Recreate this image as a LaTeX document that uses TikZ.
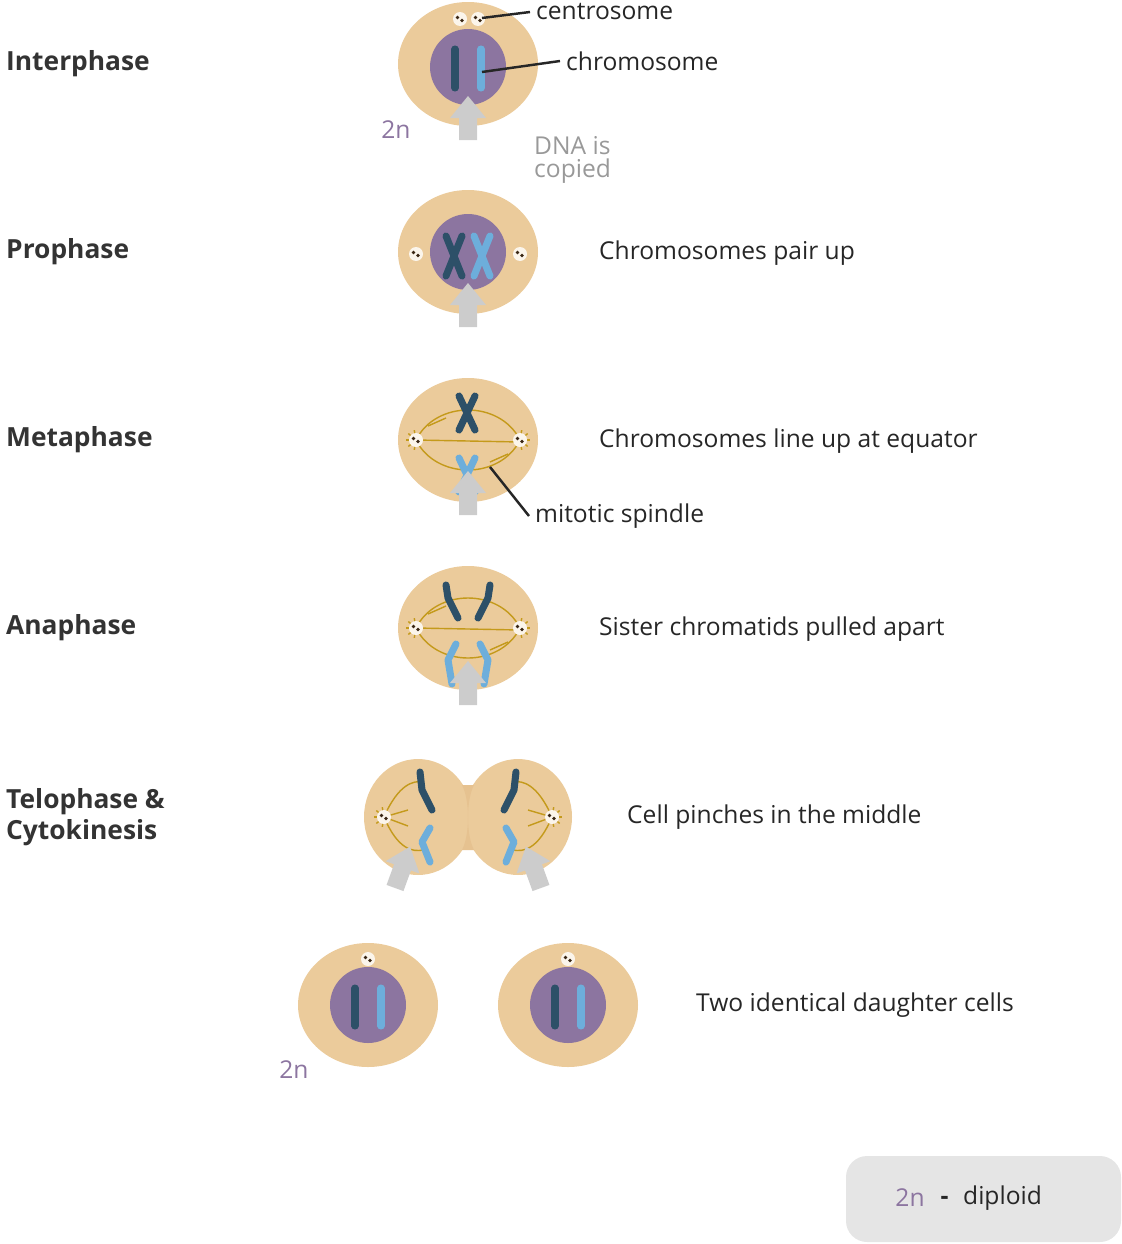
\documentclass[tikz,border=0pt]{standalone}
\usepackage{fontspec}
\setmainfont{Open Sans}
\usetikzlibrary{positioning}

\definecolor{cellc}{HTML}{EBCB9B}
\definecolor{nucc}{HTML}{8C75A0}
\definecolor{darkchr}{HTML}{2D5068}
\definecolor{lightchr}{HTML}{6DAEDB}
\definecolor{spindc}{HTML}{C49A1B}
\definecolor{arrc}{HTML}{CCCCCC}
\definecolor{labgray}{HTML}{999999}

\tikzset{
  stage/.style={anchor=west, font=\fontsize{15}{18}\selectfont\bfseries, text=black!80, align=left},
  desc/.style={anchor=west, font=\fontsize{14}{17}\selectfont, text=black!85},
  chr/.style={line width=4pt, line cap=round, line join=round},
  spin/.style={spindc, line width=0.8pt},
  pointer/.style={black!85, line width=1.4pt},
  ploidy/.style={font=\fontsize{14}{17}\selectfont, text=nucc}
}

% block arrow, rotated
\newcommand{\blockarrow}[3]{%
  \fill[arrc, shift={(#1,#2)}, rotate=#3] (-9,0) -- (9,0) -- (9,-22) -- (18,-22) -- (0,-44) -- (-18,-22) -- (-9,-22) -- cycle;}
% centrosome
\newcommand{\centro}[2]{%
  \fill[white!80!cellc] (#1,#2) circle (7);
  \fill[black!70!brown] (#1-2.5,#2-1.5) circle (1.8) (#1+2,#2+1.5) circle (1.8);}
% spindle between two poles
\newcommand{\spindle}[3]{% cx cy half width
  \draw[spin] (#1-#3,#2) .. controls (#1-#3+20,#2-40) and (#1+#3-20,#2-40) .. (#1+#3,#2);
  \draw[spin] (#1-#3,#2) .. controls (#1-#3+20,#2+40) and (#1+#3-20,#2+40) .. (#1+#3,#2);
  \draw[spin] (#1-#3,#2) -- (#1+#3,#2+2);
  \draw[spin] (#1-#3+12,#2-14) -- (#1-#3+30,#2-22) (#1+#3-12,#2+14) -- (#1+#3-30,#2+22);
  \foreach \a in {100,140,180,220,260}{
    \draw[spin] (#1-#3,#2) -- ++(\a:10) (#1+#3,#2) -- ++(180-\a:10);}
  \centro{#1-#3}{#2}\centro{#1+#3}{#2}}

\begin{document}
\begin{tikzpicture}[x=0.02cm,y=-0.02cm]
\useasboundingbox (0,0) rectangle (1122,1244);

%cells
\foreach \cx/\cy in {468/64,468/252,468/440,468/628,368/1005,568/1005}
  \fill[cellc] (\cx,\cy) ellipse (70 and 62);
\fill[cellc] (418,817) ellipse (54 and 58) (518,817) ellipse (54 and 58);
\fill[cellc] (440,790) rectangle (496,845);
\fill[cellc!88!brown] (462,785) .. controls (470,800) and (470,835) .. (462,850) -- (474,850) .. controls (466,835) and (466,800) .. (474,785) -- cycle;
\fill[white] (468,760) ellipse (22 and 12) (468,875) ellipse (22 and 12);

%nuclei
\foreach \cx/\cy in {468/67,468/252,368/1005,568/1005}
  \fill[nucc] (\cx,\cy) circle (38);

%interphase
\draw[chr, darkchr] (455,49) -- (455,88);
\draw[chr, lightchr] (481,49) -- (481,88);
\centro{460}{19}\centro{478}{19}
\coordinate (centP) at (482,18);
\coordinate (chrP) at (482,72);

%prophase
\draw[chr, darkchr] (446,236) -- (462,276) (462,236) -- (446,276);
\draw[chr, lightchr] (474,236) -- (490,276) (490,236) -- (474,276);
\centro{416}{254}\centro{520}{254}

%metaphase
\spindle{468}{440}{52}
\draw[chr, darkchr] (459,396) -- (475,430) (475,396) -- (459,430);
\draw[chr, lightchr] (459,458) -- (475,492) (475,458) -- (459,492);
\coordinate (spinP) at (490,467);

%anaphase
\spindle{468}{628}{52}
\draw[chr, darkchr] (446,585) -- (448,598) -- (458,618) (490,585) -- (488,598) -- (478,618);
\draw[chr, lightchr] (456,644) -- (448,660) -- (452,684) (480,644) -- (488,660) -- (484,684);

%telophase
\foreach \s in {1,-1}{
  \begin{scope}[shift={(468,0)}, xscale=\s]
    \draw[spin] (-84,817) .. controls (-70,785) and (-55,780) .. (-45,782);
    \draw[spin] (-84,817) .. controls (-70,850) and (-55,852) .. (-45,850);
    \draw[spin] (-84,817) -- (-60,810) (-84,817) -- (-60,826);
    \foreach \a in {100,140,180,220,260}{\draw[spin] (-84,817) -- ++(\a:10);}
    \draw[chr, darkchr] (-48,772) -- (-46,790) -- (-36,810);
    \draw[chr, lightchr] (-38,828) -- (-46,842) -- (-38,862);
  \end{scope}}
\centro{384}{817}\centro{552}{817}

%daughters
\foreach \cx in {368,568}{
  \draw[chr, darkchr] (\cx-13,988) -- (\cx-13,1026);
  \draw[chr, lightchr] (\cx+13,988) -- (\cx+13,1026);
  \centro{\cx}{959}}

%arrows
\foreach \y in {140,327,515,705}{\blockarrow{468}{\y}{0}}
\blockarrow{395}{888}{-20}
\blockarrow{541}{888}{20}

%labels
\node[stage] (inter) at (0,64) {Interphase};
\node[stage] (pro) at (0,252) {Prophase};
\node[stage] (meta) at (0,440) {Metaphase};
\node[stage] (ana) at (0,628) {Anaphase};
\node[stage] (telo) at (0,817) {Telophase \&\\Cytokinesis};

\node[desc] (centL) at (530,12) {centrosome};
\node[desc] (chrL) at (560,61) {chromosome};
\node[desc, text=labgray, align=left] (dnaL) at (528,160) {DNA is\\[-4pt]copied};
\node[desc] (proL) at (593,253) {Chromosomes pair up};
\node[desc] (metaL) at (593,441) {Chromosomes line up at equator};
\node[desc] (spinL) at (529,516) {mitotic spindle};
\node[desc] (anaL) at (593,629) {Sister chromatids pulled apart};
\node[desc] (teloL) at (621,817) {Cell pinches in the middle};
\node[desc] (dauL) at (690,1005) {Two identical daughter cells};
\node[ploidy] (ploidyA) at (396,130) {2n};
\node[ploidy] (ploidyB) at (294,1070) {2n};

\draw[pointer] (centP) -- (centL.west);
\draw[pointer] (chrP) -- (chrL.west);
\draw[pointer] (spinP) -- (spinL.west);

%legend
\fill[black!10, rounded corners=12] (846,1156) rectangle (1121,1242);
\node[ploidy] (legN) at (910,1198) {2n};
\node[desc, right=2pt of legN] (legT) {\textbf{-}\hspace{0.6em}diploid};
\end{tikzpicture}
\end{document}
